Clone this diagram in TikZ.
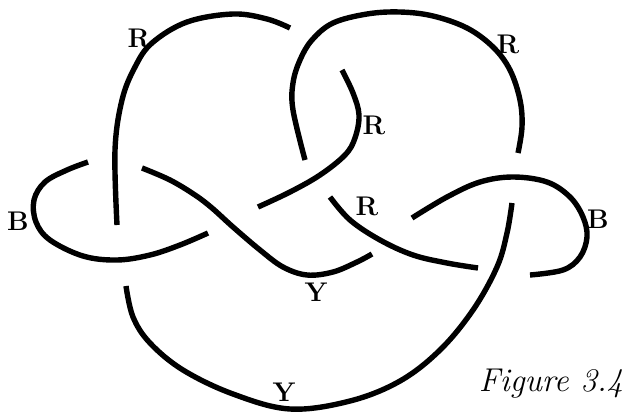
\documentclass[tikz,border=0pt]{standalone}
\begin{document}
\begin{tikzpicture}[x=1pt,y=-1pt,
  strand/.style={line width=5.4pt, line cap=butt},
  lab/.style={font=\fontsize{27}{30}\selectfont\bfseries, inner sep=0pt},
  cap3/.style={font=\fontsize{33}{38}\selectfont\itshape, inner sep=0pt, anchor=base}]
\useasboundingbox (0,0) rectangle (624,413);
% strand 1: left big arc
\draw[strand] plot[smooth, tension=0.6] coordinates {(117,225) (115,150) (122,100) (135,67) (152,43) (187,22) (233,14) (267,19) (290,28)};
% strand 2: right top arc
\draw[strand] plot[smooth, tension=0.6] coordinates {(305,160) (293,110) (293,83) (300,60) (312,40) (333,23) (367,14) (400,12) (433,16) (467,28) (493,47) (510,70) (520,100) (522,127) (518,153)};
% strand 3: inner R curve
\draw[strand] plot[smooth, tension=0.6] coordinates {(342,70) (353,93) (359,115) (355,138) (345,155) (320,175) (290,192) (258,207)};
% strand 4: S strand
\draw[strand] plot[smooth, tension=0.6] coordinates {(142,168) (170,180) (195,195) (212,208) (233,227) (260,250) (283,267) (307,275) (333,272) (357,262) (372,254)};
% strand 5: left B loop
\draw[strand] plot[smooth, tension=0.6] coordinates {(88,162) (67,170) (45,182) (34,200) (36,222) (50,240) (83,256) (117,260) (150,255) (180,245) (208,233)};
% strand 6: bottom Y arc
\draw[strand] plot[smooth, tension=0.6] coordinates {(126,286) (133,317) (150,343) (183,370) (233,394) (290,409) (350,401) (400,381) (440,350) (473,310) (497,267) (507,233) (512,203)};
% strand 7: middle R strand
\draw[strand] plot[smooth, tension=0.6] coordinates {(330,197) (350,220) (380,240) (413,255) (447,263) (478,268)};
% strand 8: right B loop
\draw[strand] plot[smooth, tension=0.6] coordinates {(412,218) (447,197) (480,182) (513,177) (547,182) (570,197) (583,217) (587,237) (580,257) (563,270) (530,275)};
% labels
\node[lab] (r1) at (139,38) {R};
\node[lab] (r2) at (508,44) {R};
\node[lab] (r3) at (374,125) {R};
\node[lab] (r4) at (367,206) {R};
\node[lab] (b1) at (18,221) {B};
\node[lab] (b2) at (598,219) {B};
\node[lab] (y1) at (316,292) {Y};
\node[lab] (y2) at (284,392) {Y};
\node[cap3] (fig) at (551,391) {Figure 3.4};
\end{tikzpicture}
\end{document}
